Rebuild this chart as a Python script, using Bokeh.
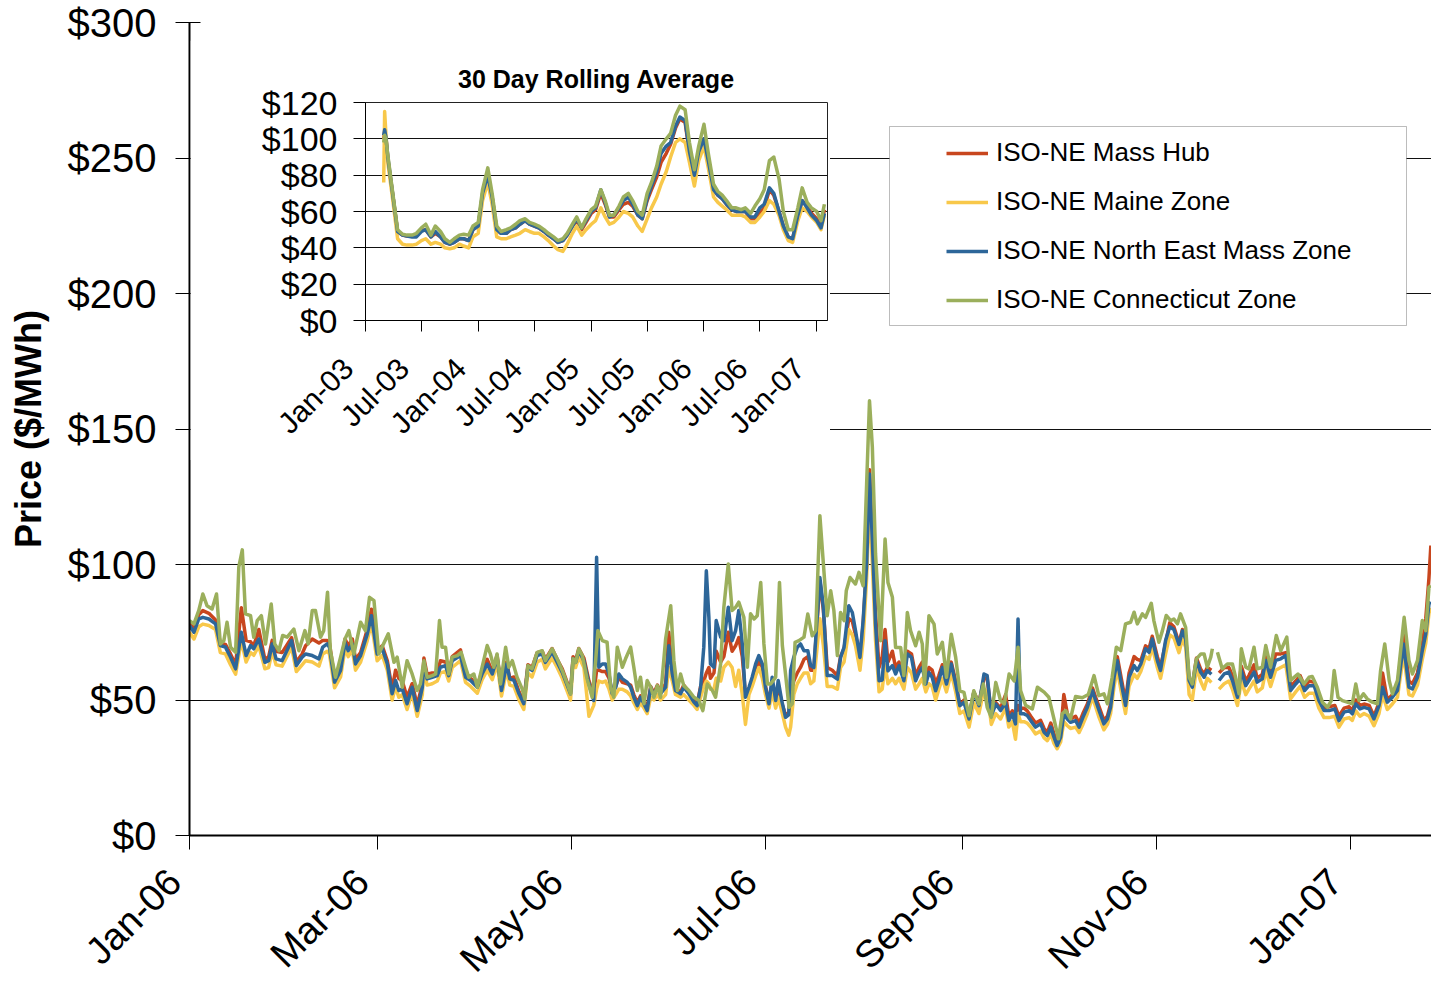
import math
import numpy as np
import pandas as pd
from bokeh.plotting import figure
from bokeh.models import (FixedTicker, PrintfTickFormatter, DatetimeTickFormatter,
                          MonthsTicker, Legend, LegendItem, BoxAnnotation, Range1d)
from bokeh.embed import file_html
from bokeh.resources import INLINE

nan = float("nan")

# ---------------- main chart data (days since 2006-01-01) ----------------
zone_days = [
    0.0, 1.4, 2.9, 4.2, 6.1, 8.2, 9.7, 11.3, 12.9, 14.5, 16.3, 17.8, 19.2, 20.2, 21.8, 23.7, 24.9, 26.0, 27.2, 29.1,
    32.1, 33.6, 35.4, 36.5, 38.6, 40.7, 41.9, 43.3, 44.0, 45.6, 47.5, 48.9, 49.9, 51.2, 52.2, 53.8, 55.9, 57.2, 59.0, 60.6,
    62.2, 63.7,
    64.8, 65.8, 66.9, 68.4, 70.0, 71.6, 73.2, 73.7, 74.7, 76.3, 77.9, 78.9, 80.5, 81.5, 82.6, 85.2, 86.8, 88.4, 90.5, 92.0,
    93.6, 95.2, 96.7, 98.1, 99.7, 100.7, 102.0, 103.6, 105.1, 106.4, 107.7, 109.3, 110.9, 111.9, 114.0, 115.6, 117.2, 119.8,
    120.6, 121.4, 122.4, 124.0, 125.6, 127.1, 128.0,
    128.7, 129.8, 130.8, 131.9, 132.9, 134.0, 135.0, 136.1, 137.6, 138.7, 139.7, 140.8, 141.8, 142.9, 143.9, 145.0, 146.0,
    147.1, 148.1, 149.7, 150.7, 151.8, 152.8, 154.4, 155.4, 157.0, 158.6, 159.6, 160.7, 161.7, 162.5, 163.3, 163.8, 164.9,
    165.6, 167.0, 168.0, 169.4, 170.6, 171.7, 172.7, 173.8, 174.8, 175.9, 176.9, 178.0, 179.0, 180.1, 181.1, 182.2, 183.2,
    184.3, 185.1, 186.2, 187.4, 188.4, 189.0, 190.0, 191.1, 192.1, 193.2,
    194.4, 195.3, 196.3, 198.2, 199.3, 200.5, 202.1, 203.7, 204.7, 205.8, 207.3, 208.4, 209.4, 210.8, 211.8, 212.9, 213.8,
    214.7, 215.7, 216.8, 217.8, 218.7, 219.6, 221.0, 222.0, 223.1, 224.6, 225.7, 227.0, 228.3, 229.4, 230.4, 231.5, 232.5,
    233.5, 234.6, 235.6, 236.7, 238.0, 239.5, 240.9, 242.2, 243.5, 245.1, 246.6, 248.2, 249.8, 250.8, 252.1, 253.5, 255.0,
    256.6, 257.6, 258.7, 259.7, 260.5, 261.3, 262.4, 263.4, 264.5, 266.0, 267.6, 268.7, 269.7, 270.8, 271.8, 272.8, 273.9,
    274.9, 276.0, 277.0, 278.6, 279.7, 280.9, 282.3, 283.9, 284.9, 286.0, 287.5, 288.6, 289.6, 290.7, 291.7, 292.8, 294.3,
    295.4, 297.0, 298.0, 299.1, 300.6, 301.7, 302.7, 304.3, 305.3, 306.9, 308.2, 309.5, 311.1, 312.2, 313.2, 314.3, 315.3,
    316.6, 317.9, 319.0, 320.0, 321.3,
    322.5,
    323.7, 325.3, 326.8, 327.9, 329.5, 330.7, 332.1, 333.1, 334.7, 335.7, 337.3, 338.4, 339.9, 341.5, 343.1, 344.7, 346.2,
    347.8, 349.2, 350.6, 352.0, 353.6, 355.1, 356.7, 358.3, 360.1, 361.4, 363.0, 364.6, 365.6, 366.7, 368.0, 369.3, 370.9,
    372.4, 374.0, 375.1, 376.6, 378.2, 379.8, 381.7, 383.4, 384.5, 386.1, 387.6, 388.7, 389.7, 390.3,
]

nema = [
    77.5, 75.0, 79.9, 80.5, 79.9, 78.1, 70.1, 69.5, 65.8, 61.5, 75.0, 66.4, 70.1, 68.9, 72.5, 63.9, 64.5, 70.7, 65.2, 64.5,
    71.9, 62.7, 65.8, 67.0, 66.4, 65.2, 69.5, 70.7, 69.5, 56.6, 60.9, 71.3, 68.2, 70.7, 63.3, 66.4, 74.4, 81.1, 67.0, 68.9,
    63.3, 52.3,
    57.2, 53.5, 54.1, 48.6, 54.7, 46.1, 54.7, 63.9, 57.8, 58.4, 59.0, 62.1, 62.7, 59.0, 64.5, 66.4, 58.4, 57.2, 54.7, 59.6,
    63.3, 59.6, 65.8, 53.5, 63.3, 57.8, 57.2, 52.3, 48.6, 62.1, 60.9, 66.4, 67.0, 63.9, 67.6, 63.9, 60.2, 52.3,
    65.2, 63.9, 68.2, 64.5, 55.9, 49.8, 102.7,
    62.1, 63.3, 63.3, 59.6, 52.3, 54.7, 59.6, 57.8, 56.6, 54.7, 51.0, 47.9, 51.0, 48.6, 46.1, 54.7, 51.6,
    54.7, 52.3, 54.7, 70.0, 59.6, 53.5, 52.3, 54.7, 52.3, 49.2, 47.9, 54.7, 69.5, 97.7, 80.5, 63.3, 62.1,
    79.3, 73.2, 71.9, 84.2, 71.9, 75.6, 83.0, 70.7, 51.0, 54.7, 58.4, 63.3, 66.4, 63.3, 54.7, 48.6, 58.4,
    49.8, 57.2, 49.8, 43.6, 44.5, 60.9, 65.8, 69.5, 70.7, 68.2,
    68.2, 62.7, 62.0, 95.2, 84.2, 59.0, 59.0, 57.7, 65.7, 69.4, 84.8, 82.3, 75.6, 65.7, 79.3, 100.2, 133.4,
    108.8, 78.0, 57.1, 57.4, 71.9, 60.8, 62.7, 59.6, 62.7, 57.1, 67.0, 65.7, 57.1, 60.2, 62.0, 55.9, 60.2,
    58.4, 53.4, 57.1, 62.0, 55.9, 63.3, 55.9, 47.9, 49.1, 43.0, 52.8, 47.9, 59.6, 59.0, 44.2, 48.5, 46.1,
    49.0, 42.4, 44.9, 41.2, 79.9, 44.9, 44.9, 44.3, 42.4, 40.0, 41.2, 38.1, 36.9, 40.0, 36.3, 33.2, 36.3,
    44.9, 43.0, 41.8, 42.4, 40.0, 43.6, 47.3, 53.5, 49.8, 46.1, 41.2, 43.0, 47.3, 58.4, 64.6, 57.2, 48.0,
    58.4, 62.7, 60.9, 63.3, 68.9, 67.6, 72.5, 64.6, 60.9, 72.0, 77.0, 76.0, 70.5, 75.5, 72.5, 57.2, 54.7,
    64.6, 60.3, 58.4, 60.9, 59.5,
    nan,
    57.2, 59.6, 60.3, 57.2, 51.0, 60.9, 55.3, 57.2, 60.3, 56.6, 57.8, 64.6, 58.4, 64.6, 65.2, 66.4, 53.5,
    55.9, 57.8, 53.5, 55.3, 55.3, 49.8, 46.1, 46.1, 46.7, 42.4, 45.5, 46.1, 44.9, 48.6, 46.7, 47.3, 46.7,
    43.0, 47.9, 54.7, 49.2, 51.0, 53.5, 70.7, 54.7, 54.1, 58.4, 68.2, 74.4, 85.5, 86.1,
]

mass_hub = [
    78.5, 76, 81.5, 83, 82, 79.5, 71, 70.5, 67, 63, 84, 72, 71.5, 70, 76, 65, 66, 72, 68, 67.5,
    73, 64, 67, 70, 72.5, 71, 72, 72, 71, 58, 63, 72.5, 70, 72.5, 65, 67.5, 76, 83.5, 68, 70,
    64.5, 54,
    61, 58, 57, 51, 56, 48, 56, 65.5, 59.5, 60, 60, 64.5, 64, 60, 66, 68.5, 59, 58, 55.5, 60.5,
    65, 60.5, 66.5, 54.5, 64, 58, 58.5, 53, 49.5, 63, 62, 67.5, 68, 65, 69, 65, 61.5, 53,
    66, 64.5, 69, 65.5, 57, 52, 61,
    61, 60.5, 60.5, 58, 53, 55, 58.5, 56.5, 56, 55.5, 52, 49, 51.5, 49.5, 47, 55, 52.5,
    55.5, 53, 56, 75, 60, 54, 53, 55.5, 53, 50, 48.5, 55, 57, 60, 62, 58, 60,
    68, 64, 66, 75, 68, 70, 73, 66, 52, 54, 57, 61, 64, 62, 55, 49.5, 56,
    50, 55, 49, 44.5, 45, 52, 57, 60, 62, 65,
    66, 61, 61, 94, 83, 62, 61, 59, 66, 69, 80, 79, 74, 66, 78, 100, 135,
    108, 82, 62, 66, 76, 64, 68, 62, 64, 59, 68, 67, 59, 62, 64, 58, 62,
    61, 56, 59, 63, 58, 64, 57, 48, 50, 44, 53, 49, 58, 58, 45, 49, 47,
    52, 44, 46, 42, 48, 47, 47, 46, 44, 41.5, 42.5, 39.5, 38, 41.5, 37.5, 34.5, 37.5,
    52, 45, 43, 44, 41.5, 45, 48.5, 54.5, 51, 47.5, 42.5, 44, 48.5, 60, 66, 59, 49.5,
    60, 66, 65, 64.5, 70, 69, 73.5, 66, 62, 71, 78.5, 77, 71, 76, 73, 58, 55.5,
    65.5, 61.5, 59.5, 62, 61,
    nan,
    60, 62, 62, 59, 52, 62.5, 57, 59, 63, 58, 59.5, 66, 60, 67, 67, 67.5, 55,
    57, 59, 55, 57, 56.5, 51, 47, 47.5, 48, 44, 47, 47.5, 46, 50, 48, 48.5, 48,
    44, 49, 60, 50, 52, 55, 75, 57, 56, 60, 70, 80, 95, 107,
]

maine = [
    75, 72.5, 77, 78, 77.5, 76, 67.5, 67, 63, 59.5, 72, 64, 67.5, 66.5, 70, 61.5, 62, 68, 63, 62.5,
    69.5, 60.5, 63, 64.5, 64, 62.5, 67, 68, 67, 54.5, 58.5, 69, 66, 68.5, 61, 64, 72, 78.5, 64.5, 66.5,
    61, 50,
    55, 51, 52, 46.5, 52.5, 44, 52, 61.5, 55.5, 56, 57, 60, 60.5, 57, 62, 64.5, 56.5, 55, 52.5, 57.5,
    61, 57.5, 63.5, 51.5, 61, 55.5, 55, 50, 46.5, 60, 58.5, 64, 65, 61.5, 65.5, 62, 58, 50,
    63, 62, 66, 62, 44, 48, 54,
    57, 56.5, 57, 54, 50, 52, 54, 54, 53, 51.5, 49, 46.5, 49, 47, 45, 51, 50,
    52, 50, 52, 62, 57, 52, 51, 52, 50, 48, 46.5, 51, 55, 57, 56, 54, 54,
    58, 57, 62, 64, 62, 55, 61, 52, 41, 52, 55, 59, 62, 58, 52, 47, 53,
    47, 51, 46, 40, 37, 40, 52, 56, 58, 60,
    60, 56, 57, 80, 70, 55, 55, 54, 62, 64, 76, 74, 70, 61, 72, 95, 125,
    100, 72, 53, 54, 63, 56, 58, 56, 58, 54, 62, 60, 54, 56, 58, 53, 56,
    55, 50, 54, 58, 53, 60, 53, 45, 46, 40, 49, 45, 54, 53, 41, 45, 43,
    47, 40, 42, 35.5, 45, 42, 42, 41.5, 40, 37.5, 38.5, 36, 35, 37.5, 34, 32, 34.5,
    42, 40.5, 39.5, 40, 38, 41, 45, 51, 47.5, 43.5, 39, 41, 45, 55, 61.5, 54, 45,
    55, 59.5, 58, 60.5, 66, 65, 69.5, 62, 58, 67, 74, 73, 67.5, 72.5, 69.5, 52, 50,
    62, 57, 54, 58, 56.5,
    nan,
    54, 56, 57, 54, 48, 57, 52, 54, 57, 53, 54.5, 61, 55, 61, 62, 63, 50.5,
    53, 55, 51, 52.5, 52.5, 47, 43.5, 43.5, 44, 40, 43, 43.5, 42.5, 46, 44, 45, 44,
    40.5, 45, 52, 46.5, 48.5, 51, 67, 52, 51.5, 55.5, 65, 71, 82, 84,
]

ct_days = [
    0.0, 1.4, 2.9, 4.2, 5.5, 7.1, 8.5, 9.7, 10.8, 11.8, 12.9, 14.5, 15.5, 16.6, 17.6, 19.2, 20.2, 21.3, 22.6, 23.9,
    25.7, 26.8, 28.1, 29.3, 30.7, 32.8, 34.4, 36.3, 37.3, 38.6, 39.6, 41.2, 42.2, 43.4, 44.3, 45.9, 47.5, 48.9, 50.1, 51.7,
    53.8, 55.3, 56.6, 58.0, 59.5, 62.5, 64.3,
    65.3, 66.9, 68.4, 70.0, 71.6, 72.6, 73.7, 74.7, 76.3, 77.4, 78.6, 79.4, 80.5, 81.5, 82.6, 84.2, 85.4, 86.8, 87.8, 89.4,
    90.5, 92.0, 93.6, 94.6, 95.7, 96.7, 97.8, 99.4, 100.4, 101.5, 103.0, 104.6, 105.4, 106.4, 107.7, 109.3, 110.9, 111.9,
    114.0, 115.6, 117.2, 118.8, 119.8, 120.6, 121.4, 122.4, 123.5, 125.0, 126.6, 127.7, 128.4,
    129.8, 131.3, 132.4, 133.4, 134.5, 136.1, 137.1, 138.7, 139.7, 140.8, 141.8, 142.9, 143.9, 145.0, 146.0, 147.1, 148.1,
    149.7, 151.3, 152.3, 153.4, 154.4, 155.4, 157.0, 158.6, 160.2, 161.4, 162.8, 164.4, 165.4, 167.0, 168.0, 169.4, 170.6,
    171.7, 172.7, 174.3, 175.4, 176.4, 177.5, 178.5, 179.6, 180.6, 181.7, 182.7, 184.3, 185.5, 186.4, 187.4, 188.5, 189.5,
    190.4, 191.6, 193.2,
    194.4, 195.8, 196.9, 198.2, 199.3, 200.5, 201.6, 202.6, 203.7, 204.7, 205.8, 206.5, 207.7, 209.4, 210.5, 211.8, 212.9,
    213.8, 214.7, 215.7, 217.3, 218.7, 219.6, 221.0, 222.0, 223.6, 224.6, 225.7, 226.7, 228.3, 229.4, 230.4, 231.1, 232.5,
    234.1, 235.1, 236.7, 238.0, 239.5, 240.9, 242.2, 243.5, 245.1, 246.6, 248.2, 249.6, 250.8, 252.1, 253.5, 255.0, 256.2,
    257.7, 259.3, 260.5, 261.3, 262.9, 265.0, 266.6, 268.7, 270.2, 271.8, 273.2, 274.4, 275.5, 277.0, 278.6, 280.7, 282.6,
    284.4, 285.9, 287.5, 288.6, 290.1, 291.4, 292.8, 294.3, 295.9, 297.0, 298.0, 299.6, 300.6, 302.4, 303.2, 304.8, 305.9,
    307.1, 308.5, 309.5, 310.6, 311.6, 313.2, 314.3, 315.3, 316.6, 318.0, 319.0, 320.0, 321.1, 321.6,
    322.4,
    323.2, 324.7, 326.3, 327.9, 328.9, 330.0, 330.7, 332.1, 333.1, 334.7, 335.7, 337.3, 338.4, 339.9, 341.7, 343.1, 345.0,
    346.2, 347.3, 348.5, 350.4, 352.0, 353.0, 354.6, 356.2, 357.8, 359.0, 359.9, 361.1, 362.5, 364.0, 365.6, 366.7, 367.7,
    369.1, 370.3, 371.9, 373.5, 374.5, 375.8, 377.2, 378.2, 379.8, 381.9, 383.4, 384.5, 386.1, 387.6, 388.7, 389.7, 390.3,
]

connecticut = [
    79.3, 78.1, 83.0, 89.1, 84.8, 83.6, 89.1, 70.7, 71.9, 78.7, 69.5, 67.6, 99.0, 105.4, 81.8, 81.1, 73.2, 79.3, 81.1, 70.7,
    85.4, 70.7, 68.2, 73.8, 73.2, 76.2, 68.2, 75.6, 70.7, 83.0, 83.0, 73.2, 75.6, 89.8, 68.2, 58.4, 65.8, 72.5, 75.6, 67.0,
    78.7, 75.6, 87.9, 86.7, 67.0, 74.4, 63.9,
    65.8, 54.7, 64.5, 59.6, 53.5, 55.9, 64.5, 58.4, 59.0, 59.6, 79.3, 69.5, 69.5, 59.6, 65.8, 66.4, 67.6, 62.1, 58.4, 59.6,
    54.7, 62.1, 70.1, 67.0, 62.1, 67.0, 55.9, 69.5, 62.1, 64.5, 58.4, 54.1, 50.4, 62.7, 61.5, 67.6, 68.2, 64.5,
    68.9, 65.2, 60.9, 55.9, 52.3, 65.2, 63.9, 68.9, 66.4, 57.8, 51.0, 64.5, 75.6,
    71.9, 71.3, 54.7, 51.0, 69.5, 62.1, 65.2, 69.5, 62.1, 53.5, 58.4, 48.6, 57.2, 54.7, 51.0, 55.3, 51.0,
    72.5, 84.8, 64.5, 53.5, 59.6, 55.3, 53.5, 51.0, 49.8, 46.1, 55.9, 53.5, 51.0, 63.3, 84.2, 100.2, 83.0,
    84.2, 86.1, 80.5, 62.1, 81.8, 79.9, 81.1, 93.4, 70.7, 55.9, 55.9, 58.4, 93.4, 70.1, 59.6, 47.3, 48.6,
    71.3, 71.9, 73.2,
    81.7, 73.7, 75.6, 118.0, 100.2, 81.1, 90.3, 83.0, 66.4, 82.3, 79.3, 90.3, 95.2, 92.8, 97.1, 92.2, 129.7,
    160.4, 143.2, 103.9, 71.9, 109.4, 93.4, 87.9, 69.4, 69.4, 59.0, 82.3, 75.6, 70.0, 75.0, 70.7, 55.9, 81.1,
    78.0, 67.0, 71.3, 58.4, 74.3, 65.7, 53.4, 52.8, 44.2, 53.4, 48.5, 55.9, 47.3, 43.6, 56.5, 49.8, 48.6,
    59.6, 57.0, 69.5, 53.5, 48.0, 46.7, 54.7, 52.9, 51.0, 43.0, 35.7, 44.9, 46.1, 43.0, 51.3, 50.8, 52.0,
    59.0, 51.6, 52.3, 48.6, 58.4, 69.5, 68.2, 78.1, 78.7, 82.4, 78.1, 81.8, 80.5, 85.7, 79.3, 71.3, 75.6,
    81.2, 79.3, 79.9, 78.1, 81.8, 76.8, 58.4, 55.9, 65.2, 67.0, 67.0, 62.1, 65.8, 68.9,
    nan,
    67.6, 61.5, 63.3, 63.3, 58.4, 52.3, 68.9, 62.1, 61.5, 69.5, 61.5, 62.1, 70.1, 62.1, 73.8, 68.2, 73.2,
    57.2, 58.4, 59.6, 55.9, 58.4, 58.7, 54.7, 49.2, 47.3, 49.8, 60.9, 51.0, 49.8, 49.2, 48.6, 55.9, 49.8,
    52.3, 50.4, 49.2, 48.6, 60.9, 70.7, 57.2, 52.3, 57.2, 80.5, 64.6, 59.6, 64.6, 79.3, 75.6, 91.6, 92.2,
]

# ---------------- inset: 30 day rolling average ----------------
avg_dates = [
    "2003-03-01", "2003-03-04", "2003-03-08", "2003-03-15", "2003-04-01", "2003-04-15", "2003-05-01", "2003-05-15",
    "2003-06-01", "2003-06-15", "2003-07-01", "2003-07-15", "2003-08-01", "2003-08-15", "2003-09-01", "2003-09-15",
    "2003-10-01", "2003-10-15", "2003-11-01", "2003-11-15", "2003-12-01", "2003-12-15",
    "2004-01-01", "2004-01-15", "2004-02-01", "2004-02-15", "2004-03-01", "2004-03-15", "2004-04-01", "2004-04-15",
    "2004-05-01", "2004-05-15", "2004-06-01", "2004-06-15", "2004-07-01", "2004-07-15", "2004-08-01", "2004-08-15",
    "2004-09-01", "2004-09-15", "2004-10-01", "2004-10-15", "2004-11-01", "2004-11-15", "2004-12-01", "2004-12-15",
    "2005-01-01", "2005-01-15", "2005-02-01", "2005-02-15", "2005-03-01", "2005-03-15", "2005-04-01", "2005-04-15",
    "2005-05-01", "2005-05-15", "2005-06-01", "2005-06-15", "2005-07-01", "2005-07-15", "2005-08-01", "2005-08-15",
    "2005-09-01", "2005-09-15", "2005-10-01", "2005-10-15", "2005-11-01", "2005-11-15", "2005-12-01", "2005-12-15",
    "2006-01-01", "2006-01-15", "2006-02-01", "2006-02-15", "2006-03-01", "2006-03-15", "2006-04-01", "2006-04-15",
    "2006-05-01", "2006-05-15", "2006-06-01", "2006-06-15", "2006-07-01", "2006-07-15", "2006-08-01", "2006-08-15",
    "2006-09-01", "2006-09-15", "2006-10-01", "2006-10-15", "2006-11-01", "2006-11-15", "2006-12-01", "2006-12-15",
    "2007-01-01", "2007-01-15", "2007-01-26",
]
avg_ct = [
    98, 102, 100, 90, 68, 50, 47.5, 47, 47, 48, 51, 53, 47, 52, 49, 45, 43, 45, 47, 47.5, 47, 52,
    54, 72, 84, 70, 52, 49, 50, 51, 53, 55, 56, 54, 53, 52, 50, 48, 46, 44, 45, 48, 53, 57, 51, 56,
    61, 63, 72, 66, 58, 58, 63, 68, 70, 66, 60, 58, 70, 76, 85, 96, 100, 103, 113, 118, 116, 98, 83, 96,
    108, 92, 75, 71, 69, 66, 62, 62, 61, 62, 59, 63, 67, 72, 88, 90, 78, 60, 50, 50, 62, 73, 65, 62,
    60, 55, 64,
]
avg_nema = [
    102, 105, 101, 89, 67, 49, 47, 46.5, 46, 46, 49, 50, 46, 49, 46, 43, 42, 43, 45, 45, 44, 50,
    52, 70, 80, 68, 50, 48, 48, 50, 51, 53, 55, 53, 52, 51, 49, 47, 45, 43, 44, 47, 52, 56, 51, 55,
    60, 62, 72, 65, 57, 58, 62, 66, 68, 64, 58, 56, 67, 74, 82, 92, 96, 98, 107, 112, 110, 93, 80, 93,
    100, 88, 72, 69, 67, 64, 61, 60, 60, 60, 57, 57, 62, 64, 73, 70, 60, 52, 46, 45, 58, 66, 62, 58,
    55, 51, 59,
]
avg_mass = [
    100, 104, 101, 88, 67, 49, 47, 46.5, 46.5, 47, 49.5, 50, 46, 48, 46, 43, 42, 43, 45, 45, 44, 50,
    52, 69, 80, 68, 50, 48, 48, 50, 51, 53, 55, 53, 52, 51, 49, 47, 45, 43, 44, 47, 52, 55, 50, 54,
    59, 61, 70, 64, 57, 57, 61, 64, 65, 63, 58, 56, 66, 72, 79, 87, 92, 97, 106, 111, 109, 92, 79, 92,
    100, 87, 72, 69, 67, 64, 61, 60, 60, 60, 56, 56, 59, 62, 72, 69, 60, 52, 46, 45, 57, 66, 63, 59,
    56, 52, 61,
]
avg_maine = [
    76, 115, 103, 86, 64, 45, 42, 41.5, 41.5, 42, 44, 45, 42, 43, 42, 40, 39.5, 40, 42, 41, 40, 46,
    48, 66, 76, 64, 46, 45, 45, 46, 47, 48, 50, 49, 48, 48, 46, 44, 41, 39, 38, 42, 48, 52, 47, 50,
    53, 55, 62, 57, 53, 54, 57, 60, 59, 57, 52, 49, 56, 62, 68, 75, 82, 90, 98, 100, 98, 87, 74, 88,
    96, 84, 68, 65, 63, 61, 58, 58, 58, 57, 54, 54, 57, 60, 66, 64, 58, 50, 44, 43, 55, 62, 60, 57,
    54, 50, 58,
]

series_names = ["ISO-NE Mass Hub", "ISO-NE Maine Zone", "ISO-NE North East Mass Zone", "ISO-NE Connecticut Zone"]
series_colors = ["#C8461E", "#F8C84A", "#2D6699", "#9BAF5C"]
price_ticks = [0, 50, 100, 150, 200, 250, 300]
avg_ticks = [0, 20, 40, 60, 80, 100, 120]

FONT = "Liberation Sans"
NBSP = "\u00a0"
START = pd.Timestamp("2006-01-01")
END = START + pd.Timedelta(days=390.5)
I_START = pd.Timestamp("2003-01-01")
I_END = pd.Timestamp("2007-02-05")


def to_dates(days):
    return START + pd.to_timedelta(np.asarray(days, dtype=float), unit="D")


def fit(xs, ys):
    n = min(len(xs), len(ys))
    return list(xs)[:n], list(ys)[:n]


def month_fmt(pad):
    f = "%b-%y" + NBSP * pad
    return DatetimeTickFormatter(months=f, years=f, days=f)


# ---------------- main figure ----------------
p = figure(width=1431, height=999, x_axis_type="datetime", output_backend="svg", toolbar_location=None,
           x_range=Range1d(START, END), y_range=Range1d(0, 300),
           min_border_left=189, min_border_right=0, min_border_top=22, min_border_bottom=164)
p.outline_line_color = None
p.background_fill_color = "white"
p.border_fill_color = "white"

renderers = []
zx = to_dates(zone_days)
cx = to_dates(ct_days)
for xs, ys, col in [(zx, mass_hub, series_colors[0]), (zx, maine, series_colors[1]),
                    (zx, nema, series_colors[2]), (cx, connecticut, series_colors[3])]:
    a, b = fit(xs, ys)
    renderers.append(p.line(a, b, line_color=col, line_width=3.5, line_join="round"))

p.xgrid.grid_line_color = None
p.ygrid.ticker = FixedTicker(ticks=[t for t in price_ticks if 0 < t < 300])
p.ygrid.grid_line_color = "#111111"
p.ygrid.grid_line_width = 1

yax = p.yaxis[0]
yax.ticker = FixedTicker(ticks=price_ticks)
yax.formatter = PrintfTickFormatter(format="$%d")
yax.major_label_text_font = FONT
yax.major_label_text_font_size = "40px"
yax.major_label_text_color = "black"
yax.major_tick_in = 11
yax.major_tick_out = 14
yax.minor_tick_in = 0
yax.minor_tick_out = 0
yax.major_label_standoff = 19
yax.axis_line_width = 2
yax.axis_line_color = "black"
yax.major_tick_line_color = "black"
yax.axis_label = "Price ($/MWh)"
yax.axis_label_text_font = FONT
yax.axis_label_text_font_size = "36px"
yax.axis_label_text_font_style = "bold"
yax.axis_label_text_color = "black"
yax.axis_label_standoff = 16

xax = p.xaxis[0]
xax.ticker = MonthsTicker(months=[0, 2, 4, 6, 8, 10])
xax.formatter = month_fmt(2)
xax.major_label_orientation = math.pi / 4
xax.major_label_text_font = FONT
xax.major_label_text_font_size = "38px"
xax.major_label_text_color = "black"
xax.major_tick_in = 0
xax.major_tick_out = 14
xax.minor_tick_in = 0
xax.minor_tick_out = 0
xax.major_label_standoff = 11
xax.axis_line_width = 2
xax.axis_line_color = "black"
xax.major_tick_line_color = "black"

# legend frame
box = BoxAnnotation(left=700, right=1217, top=709, bottom=510,
                    left_units="screen", right_units="screen", top_units="screen", bottom_units="screen",
                    fill_color="white", fill_alpha=1.0, line_color="#222222", line_width=1)
p.add_layout(box)

legend = Legend(items=[LegendItem(label=n, renderers=[r]) for n, r in zip(series_names, renderers)],
                location=(757, 520), orientation="vertical")
legend.label_text_font = FONT
legend.label_text_font_size = "26px"
legend.label_text_color = "black"
legend.glyph_width = 42
legend.glyph_height = 30
legend.label_height = 30
legend.label_standoff = 8
legend.spacing = 18
legend.padding = 0
legend.margin = 0
legend.border_line_color = None
legend.background_fill_alpha = 0
p.add_layout(legend)

# ---------------- inset figure ----------------
inset = figure(width=640, height=420, x_axis_type="datetime", output_backend="svg", toolbar_location=None,
               x_range=Range1d(I_START, I_END), y_range=Range1d(0, 120),
               min_border_left=175, min_border_right=3, min_border_top=62, min_border_bottom=140,
               styles={"position": "absolute", "left": "190px", "top": "40px"})
inset.background_fill_color = "white"
inset.border_fill_color = "white"
inset.outline_line_color = "#222222"
inset.outline_line_width = 1
inset.title.text = "30 Day Rolling Average"
inset.title.text_font = FONT
inset.title.text_font_size = "25px"
inset.title.text_font_style = "bold"
inset.title.text_color = "black"
inset.title.align = "center"
inset.title.standoff = 19

ad = pd.to_datetime(avg_dates)
for ys, col in [(avg_mass, series_colors[0]), (avg_maine, series_colors[1]),
                (avg_nema, series_colors[2]), (avg_ct, series_colors[3])]:
    a, b = fit(ad, ys)
    inset.line(a, b, line_color=col, line_width=3.5, line_join="round")

inset.xgrid.grid_line_color = None
inset.ygrid.ticker = FixedTicker(ticks=avg_ticks)
inset.ygrid.grid_line_color = "#111111"

iy = inset.yaxis[0]
iy.ticker = FixedTicker(ticks=avg_ticks)
iy.formatter = PrintfTickFormatter(format="$%d")
iy.major_label_text_font = FONT
iy.major_label_text_font_size = "34px"
iy.major_label_text_color = "black"
iy.major_tick_in = 0
iy.major_tick_out = 12
iy.minor_tick_in = 0
iy.minor_tick_out = 0
iy.major_label_standoff = 16
iy.axis_line_color = "black"

ixa = inset.xaxis[0]
ixa.ticker = MonthsTicker(months=[0, 6])
ixa.formatter = month_fmt(3)
ixa.major_label_orientation = math.pi / 4
ixa.major_label_text_font = FONT
ixa.major_label_text_font_size = "30px"
ixa.major_label_text_color = "black"
ixa.major_tick_in = 0
ixa.major_tick_out = 11
ixa.minor_tick_in = 0
ixa.minor_tick_out = 0
ixa.major_label_standoff = 14
ixa.axis_line_color = "black"

open("out.html", "w").write(file_html([p, inset], INLINE))
